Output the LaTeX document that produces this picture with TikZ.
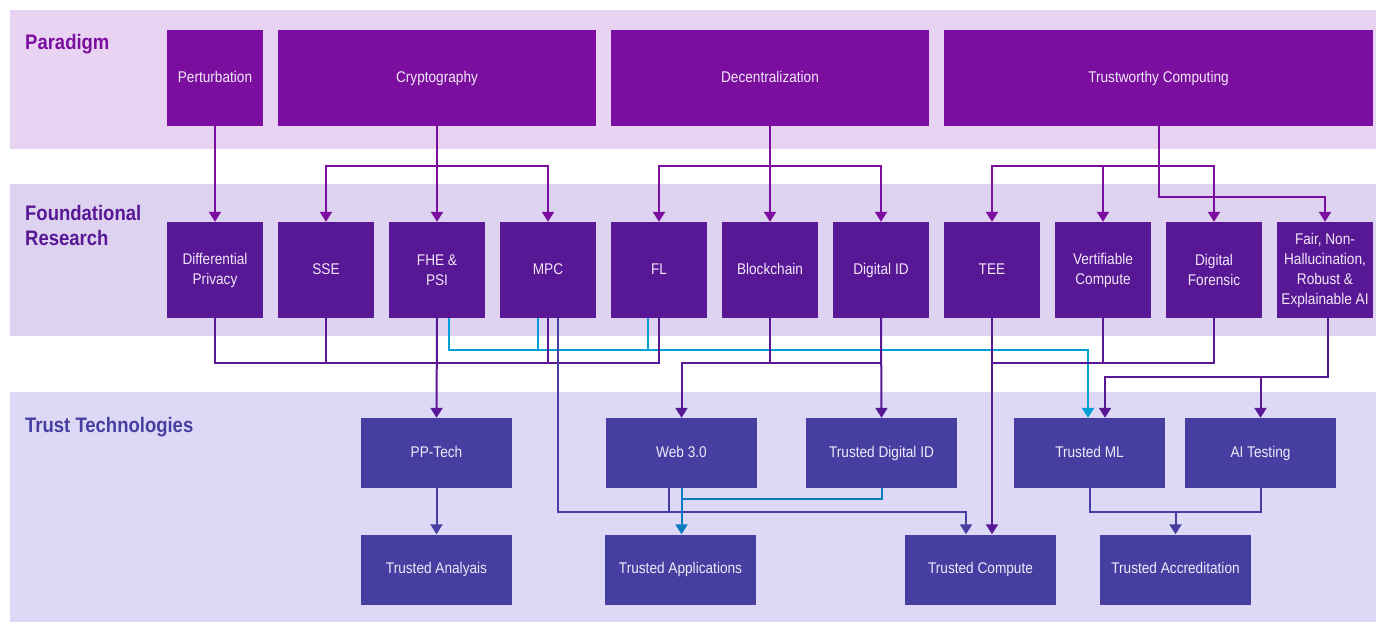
\documentclass[tikz,border=0pt]{standalone}
\usepackage{fontspec}
\setmainfont[FakeStretch=0.88]{Liberation Sans}
\usetikzlibrary{arrows.meta,calc}
\definecolor{bandA}{HTML}{E8D4F2}
\definecolor{bandB}{HTML}{DDD2F0}
\definecolor{bandC}{HTML}{DDD8F5}
\definecolor{parcol}{HTML}{7B0E9E}
\definecolor{fcol}{HTML}{581794}
\definecolor{tcol}{HTML}{463FA1}
\definecolor{cyanline}{HTML}{00A0D6}
\definecolor{blueline}{HTML}{0A7DC2}
\definecolor{boxtext}{HTML}{F0E8F8}
\begin{document}
\begin{tikzpicture}[x=1pt,y=-1pt,
  boxbase/.style={inner sep=0pt, text=boxtext, align=center, font=\fontsize{15.5}{20}\selectfont},
  oneline/.style={text height=11.5pt, text depth=3.5pt},
  pbox/.style={boxbase, oneline, fill=parcol, minimum height=96pt},
  fbox/.style={boxbase, fill=fcol, minimum width=96pt, minimum height=96pt},
  tbox/.style={boxbase, oneline, fill=tcol, minimum width=151pt, minimum height=70pt},
  lbl/.style={anchor=base west, inner sep=0pt, font=\bfseries\fontsize{21}{25}\selectfont, align=left},
  tip/.style={-{Triangle[width=12pt,length=10pt]}},
  pline/.style={draw=parcol, line width=2pt},
  fline/.style={draw=fcol, line width=2pt},
  tline/.style={draw=tcol, line width=2pt},
  cline/.style={draw=cyanline, line width=2pt},
  bline/.style={draw=blueline, line width=2pt}]
\useasboundingbox (0,0) rectangle (1376,624);
% bands
\fill[bandA] (10,10) rectangle (1376,149);
\fill[bandB] (10,184) rectangle (1376,336);
\fill[bandC] (10,392) rectangle (1376,622);
% labels
\node[lbl, text=parcol] (lp) at (25,49) {Paradigm};
\node[lbl, text=fcol] (lf) at (25,220) {Foundational};
\node[lbl, text=fcol] (lr) at (25,245) {Research};
\node[lbl, text=tcol] (lt) at (25,432) {Trust Technologies};
% paradigm boxes
\node[pbox, minimum width=96pt] (pert) at (215,78) {Perturbation};
\node[pbox, minimum width=318pt] (crypt) at (437,78) {Cryptography};
\node[pbox, minimum width=318pt] (dec) at (770,78) {Decentralization};
\node[pbox, minimum width=429pt] (tw) at (1158.5,78) {Trustworthy Computing};
% foundational boxes
\node[fbox] (dp) at (215,270) {Differential\\Privacy};
\node[fbox, oneline] (sse) at (326,270) {SSE};
\node[fbox] (fhe) at (437,270) {FHE \&\\PSI};
\node[fbox, oneline] (mpc) at (548,270) {MPC};
\node[fbox, oneline] (fl) at (659,270) {FL};
\node[fbox, oneline] (bc) at (770,270) {Blockchain};
\node[fbox, oneline] (did) at (881,270) {Digital ID};
\node[fbox, oneline] (tee) at (992,270) {TEE};
\node[fbox] (vc) at (1103,270) {Vertifiable\\Compute};
\node[fbox] (df) at (1214,270) {Digital\\Forensic};
\node[fbox] (fair) at (1325,270) {Fair, Non-\\Hallucination,\\Robust \&\\Explainable AI};
% trust technology boxes
\node[tbox] (pptech) at (436.5,453) {PP-Tech};
\node[tbox] (web) at (681.5,453) {Web 3.0};
\node[tbox] (tdid) at (881.5,453) {Trusted Digital ID};
\node[tbox] (tml) at (1089.5,453) {Trusted ML};
\node[tbox] (ait) at (1260.5,453) {AI Testing};
\node[tbox] (tan) at (436.5,569.5) {Trusted Analyais};
\node[tbox] (tapp) at (680.5,569.5) {Trusted Applications};
\node[tbox] (tcomp) at (980.5,569.5) {Trusted Compute};
\node[tbox] (tacc) at (1175.5,569.5) {Trusted Accreditation};
% levels
\coordinate (hA) at (0,166);
\coordinate (hB) at (0,197);
\coordinate (hC) at (0,350);
\coordinate (hD) at (0,363);
\coordinate (hE) at (0,377);
\coordinate (hF) at (0,499);
\coordinate (hG) at (0,512);
% ports
\coordinate (fheC) at ([xshift=12pt]fhe.south);
\coordinate (mpcC) at ([xshift=-10pt]mpc.south);
\coordinate (mpcT) at ([xshift=10pt]mpc.south);
\coordinate (flC) at ([xshift=-11pt]fl.south);
\coordinate (tmlC) at ([xshift=-1.5pt]tml.north);
\coordinate (tmlP) at ([xshift=15.5pt]tml.north);
\coordinate (tcompT) at ([xshift=-14.5pt]tcomp.north);
\coordinate (tcompP) at ([xshift=11.5pt]tcomp.north);
\coordinate (webT) at ([xshift=-12.5pt]web.south);
\coordinate (fairS) at ([xshift=3pt]fair.south);
% paradigm -> foundational
\draw[pline, tip] (pert.south) -- (dp.north);
\draw[pline, tip] (crypt.south) -- (fhe.north);
\draw[pline, tip] (crypt.south |- hA) -| (sse.north);
\draw[pline, tip] (crypt.south |- hA) -| (mpc.north);
\draw[pline, tip] (dec.south) -- (bc.north);
\draw[pline, tip] (dec.south |- hA) -| (fl.north);
\draw[pline, tip] (dec.south |- hA) -| (did.north);
\draw[pline] (tw.south) -- (tw.south |- hA);
\draw[pline, tip] (tw.south |- hA) -| (tee.north);
\draw[pline, tip] (tw.south |- hA) -| (vc.north);
\draw[pline, tip] (tw.south |- hA) -| (df.north);
\draw[pline, tip] (tw.south) |- (fair.north |- hB) -- (fair.north);
% foundational -> trust (cyan)
\draw[cline, tip] (fheC) |- (tmlC |- hC) -- (tmlC);
\draw[cline] (mpcC) -- (mpcC |- hC);
\draw[cline] (flC) -- (flC |- hC);
% foundational -> trust (purple)
\draw[fline] (dp.south) |- (fl.south |- hD) -- (fl.south);
\draw[fline] (sse.south) -- (sse.south |- hD);
\draw[fline] (mpc.south) -- (mpc.south |- hD);
\draw[fline, tip] (fhe.south) -- (pptech.north);
\draw[fline] (bc.south) -- (bc.south |- hD);
\draw[fline, tip] (did.south) -- (tdid.north);
\draw[fline, tip] (did.south |- hD) -| (web.north);
\draw[fline, tip] (tee.south) -- (tcompP);
\draw[fline] (tee.south |- hD) -| (df.south);
\draw[fline] (vc.south) -- (vc.south |- hD);
\draw[fline, tip] (fairS) |- (tmlP |- hE) -- (tmlP);
\draw[fline, tip] (ait.north |- hE) -- (ait.north);
% MPC / Web 3.0 -> Trusted Compute
\draw[tline, tip] (mpcT) |- (tcompT |- hG) -- (tcompT);
\draw[tline] (webT) -- (webT |- hG);
% blue: Web 3.0 / Trusted Digital ID -> Trusted Applications
\draw[bline, tip] (web.south) -- (web.south |- tapp.north);
\draw[bline] (tdid.south) |- (web.south |- hF);
% trust row 1 -> row 2
\draw[tline, tip] (pptech.south) -- (tan.north);
\draw[tline] (tml.south) |- (ait.south |- hG) -- (ait.south);
\draw[tline, tip] (tacc.north |- hG) -- (tacc.north);
\end{tikzpicture}
\end{document}
